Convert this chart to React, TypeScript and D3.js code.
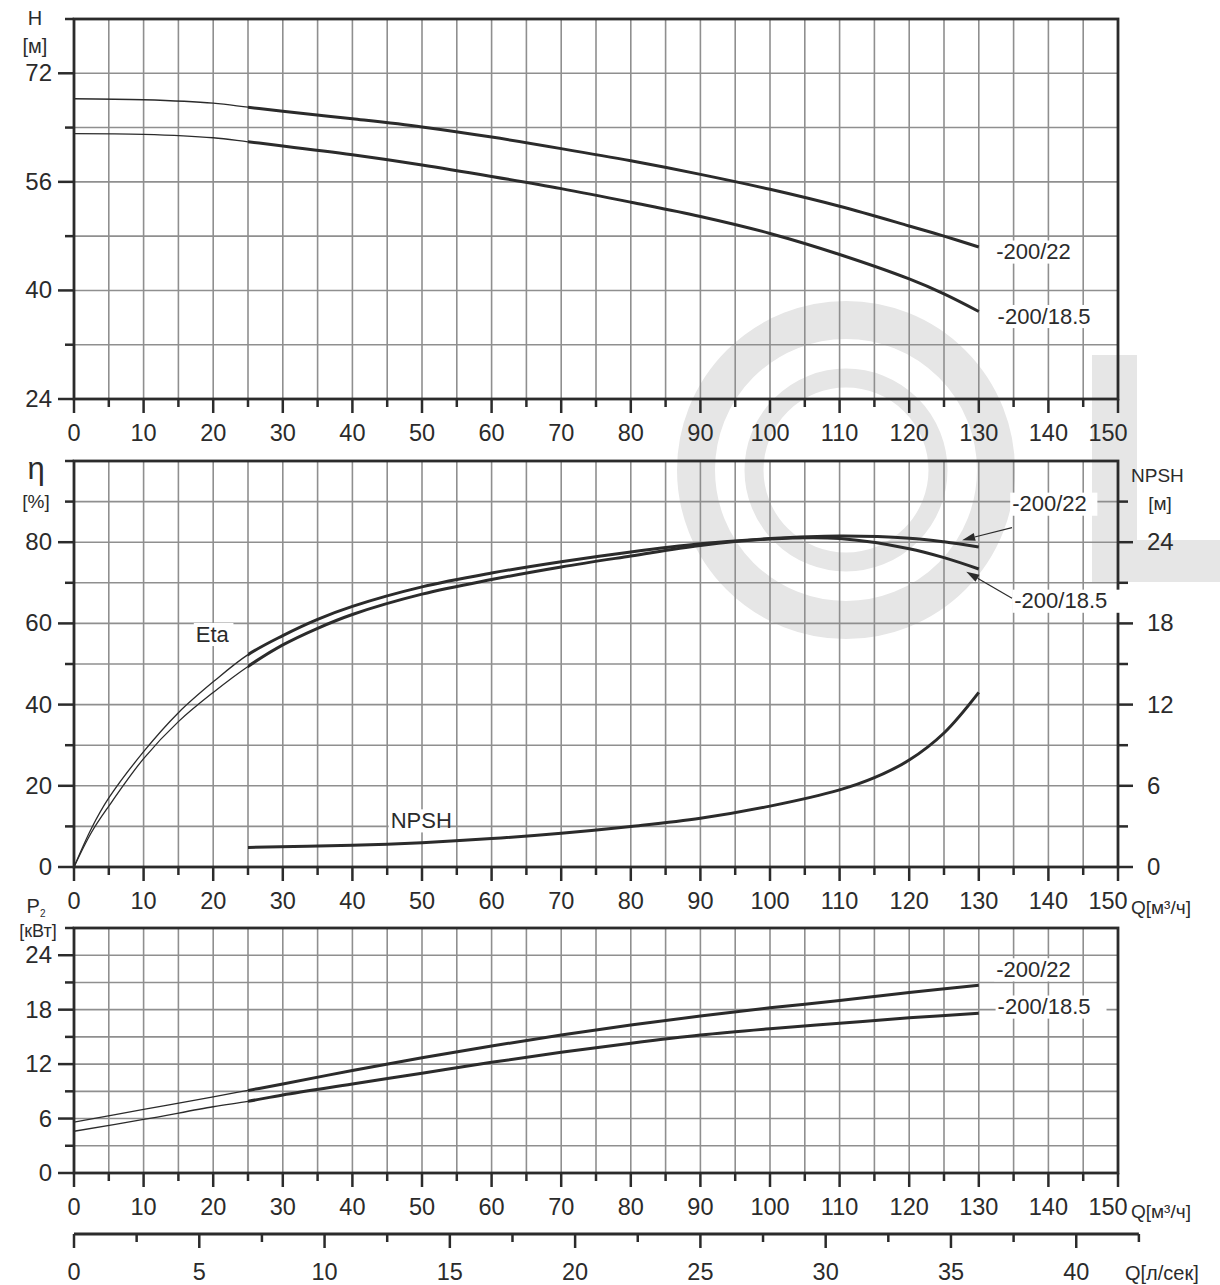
import * as d3 from "d3";

// Q axis (m³/h) and curve values
const qTicks = [0, 10, 20, 30, 40, 50, 60, 70, 80, 90, 100, 110, 120, 130, 140, 150];
const lsTicks = [0, 5, 10, 15, 20, 25, 30, 35, 40];

const qHead = [0, 10, 20, 25, 30, 40, 50, 60, 70, 80, 90, 100, 110, 120, 125, 130];
const head22 = [68.25, 68.1, 67.6, 67.0, 66.4, 65.3, 64.1, 62.6, 60.9, 59.1, 57.1, 54.9, 52.4, 49.5, 48.0, 46.4];
const head185 = [63.1, 63.0, 62.5, 61.9, 61.3, 60.0, 58.5, 56.8, 55.0, 53.0, 50.9, 48.4, 45.3, 41.7, 39.5, 36.9];

const qEta = [0, 2.5, 5, 10, 15, 20, 25, 30, 35, 40, 50, 60, 70, 80, 90, 100, 110, 120, 125, 130];
const eta22 = [0, 9.5, 17, 28.4, 38.0, 45.6, 52.3, 57.0, 61.0, 64.2, 69.0, 72.4, 75.2, 77.6, 79.6, 80.9, 81.5, 81.0, 80.1, 78.8];
const eta185 = [0, 8.5, 15.0, 26.7, 35.8, 43.0, 49.4, 54.7, 58.8, 62.2, 67.2, 70.8, 73.9, 76.6, 79.2, 80.8, 80.9, 78.4, 76.2, 73.4];

const qNpsh = [25, 40, 50, 60, 70, 80, 90, 100, 110, 115, 120, 125, 130];
const npsh = [1.45, 1.6, 1.8, 2.1, 2.5, 3.0, 3.6, 4.5, 5.7, 6.6, 7.9, 9.9, 12.9];

const qPow = [0, 10, 20, 25, 30, 40, 50, 60, 70, 80, 90, 100, 110, 120, 130];
const pow22 = [5.6, 7.0, 8.4, 9.1, 9.8, 11.3, 12.7, 14.0, 15.2, 16.3, 17.3, 18.2, 19.0, 19.9, 20.7];
const pow185 = [4.6, 5.9, 7.3, 7.9, 8.6, 9.8, 11.0, 12.2, 13.3, 14.3, 15.2, 15.9, 16.5, 17.1, 17.6];

const hTicks = [24, 40, 56, 72];
const etaTicks = [0, 20, 40, 60, 80];
const npshTicks = [0, 6, 12, 18, 24];
const powTicks = [0, 6, 12, 18, 24];

const FONT = "'Liberation Sans', Arial, sans-serif";
const INK = "#2b2b2b";
const GRID = "#8f8f8f";
const WM = "#e6e6e6";

const x = d3.scaleLinear().domain([0, 150]).range([74, 1118]);
const xLs = d3.scaleLinear().domain([0, 40]).range([x(0), x(144)]);
const yH = d3.scaleLinear().domain([24, 80]).range([399, 19]);
const yEta = d3.scaleLinear().domain([0, 100]).range([867, 461]);
const yNpsh = d3.scaleLinear().domain([0, 30]).range([867, 461]);
const yP = d3.scaleLinear().domain([0, 27]).range([1173, 928]);

type Scale = d3.ScaleLinear<number, number>;

let clipSeq = 0;

function Curve({ qs, vs, y, start = 0 }: { qs: number[]; vs: number[]; y: Scale; start?: number }) {
  const pts: [number, number][] = qs.map((q, i) => [q, vs[i]]);
  const line = d3
    .line<[number, number]>()
    .x((d) => x(d[0]))
    .y((d) => y(d[1]))
    .curve(d3.curveCatmullRom.alpha(0.5));
  const full = line(pts) ?? "";
  // thin part up to Q=25, thick afterwards
  const id = "clip" + clipSeq++;
  return (
    <g fill="none" stroke={INK}>
      <defs>
        <clipPath id={id + "a"}>
          <rect x={0} y={0} width={x(25)} height={1285} />
        </clipPath>
        <clipPath id={id + "b"}>
          <rect x={x(25)} y={0} width={1220} height={1285} />
        </clipPath>
      </defs>
      {start < 25 && <path d={full} strokeWidth={1.3} clipPath={`url(#${id}a)`} />}
      <path d={full} strokeWidth={3} clipPath={`url(#${id}b)`} />
    </g>
  );
}

function Label({ x0, y0, text, size = 22 }: { x0: number; y0: number; text: string; size?: number }) {
  const w = text.length * size * 0.54;
  return (
    <g>
      <rect x={x0 - 2} y={y0 - size * 0.85} width={w + 4} height={size * 1.05} fill="#fff" />
      <text x={x0} y={y0} fontSize={size} fill={INK} fontFamily={FONT}>
        {text}
      </text>
    </g>
  );
}

function Panel({
  y,
  top,
  bottom,
  step,
  minorStep,
  labels,
  rightAxis,
}: {
  y: Scale;
  top: number;
  bottom: number;
  step: number;
  minorStep: number;
  labels: number[];
  rightAxis?: boolean;
}) {
  const [d0, d1] = y.domain();
  const hLines = d3.range(d0 + step, d1 - 0.001, step);
  const vLines = d3.range(5, 150, 5);
  const minor = d3.range(d0, d1 + 0.001, minorStep).filter((v) => !labels.includes(v));
  const yb = y(d0);
  return (
    <g>
      {vLines.map((q) => (
        <line key={"v" + q} x1={x(q)} x2={x(q)} y1={y(d1)} y2={yb} stroke={GRID} strokeWidth={1.6} />
      ))}
      {hLines.map((v) => (
        <line key={"h" + v} x1={x(0)} x2={x(150)} y1={y(v)} y2={y(v)} stroke={GRID} strokeWidth={1.6} />
      ))}
      {d3.range(0, 151, 5).map((q) => (
        <line
          key={"xt" + q}
          x1={x(q)}
          x2={x(q)}
          y1={yb}
          y2={yb + (q % 10 === 0 ? 14 : 8)}
          stroke={INK}
          strokeWidth={2.5}
        />
      ))}
      {qTicks.map((q) => (
        <text
          key={"xl" + q}
          x={x(q) - (q === 150 ? 10 : 0)}
          y={yb + 42}
          textAnchor="middle"
          fontSize={23.5}
          fill={INK}
          fontFamily={FONT}
        >
          {q}
        </text>
      ))}
      {labels.map((v) => (
        <g key={"yl" + v}>
          <line x1={x(0) - 16} x2={x(0)} y1={y(v)} y2={y(v)} stroke={INK} strokeWidth={2.5} />
          <text x={x(0) - 22} y={y(v) + 8} textAnchor="end" fontSize={24} fill={INK} fontFamily={FONT}>
            {v}
          </text>
        </g>
      ))}
      {minor.map((v) => (
        <line key={"ym" + v} x1={x(0) - 9} x2={x(0)} y1={y(v)} y2={y(v)} stroke={INK} strokeWidth={2.5} />
      ))}
      {rightAxis && (
        <g>
          {npshTicks.map((v) => (
            <g key={"rl" + v}>
              <line x1={x(150)} x2={x(150) + 15} y1={yNpsh(v)} y2={yNpsh(v)} stroke={INK} strokeWidth={2.5} />
              <text x={x(150) + 29} y={yNpsh(v) + 8} fontSize={24} fill={INK} fontFamily={FONT}>
                {v}
              </text>
            </g>
          ))}
          {d3.range(3, 30, 6).map((v) => (
            <line key={"rm" + v} x1={x(150)} x2={x(150) + 10} y1={yNpsh(v)} y2={yNpsh(v)} stroke={INK} strokeWidth={2.5} />
          ))}
        </g>
      )}
      <rect x={x(0)} y={top} width={x(150) - x(0)} height={bottom - top} fill="none" stroke={INK} strokeWidth={2.8} />
    </g>
  );
}

function Arrow({ x1, y1, x2, y2 }: { x1: number; y1: number; x2: number; y2: number }) {
  const a = Math.atan2(y2 - y1, x2 - x1);
  const L = 13;
  const Wd = 4;
  const bx = x2 - L * Math.cos(a);
  const by = y2 - L * Math.sin(a);
  const px = -Math.sin(a) * Wd;
  const py = Math.cos(a) * Wd;
  return (
    <g>
      <line x1={x1} y1={y1} x2={bx} y2={by} stroke={INK} strokeWidth={1.2} />
      <path d={`M${x2},${y2}L${bx + px},${by + py}L${bx - px},${by - py}Z`} fill={INK} />
    </g>
  );
}

export default function App() {
  const ls = d3.range(0, 42.51, 2.5);
  return (
    <svg
      width={1220}
      height={1285}
      style={{ position: "absolute", left: 0, top: 0, background: "#fff" }}
      fontFamily={FONT}
    >
      <rect width={1220} height={1285} fill="#fff" />
      {/* watermark */}
      <g fill="none" stroke={WM}>
        <circle cx={846} cy={470} r={150} strokeWidth={38} />
        <circle cx={846} cy={470} r={92} strokeWidth={19} />
      </g>
      <rect x={1092} y={355} width={45} height={227} fill={WM} />
      <rect x={1137} y={540} width={83} height={42} fill={WM} />

      {/* head panel */}
      <Panel y={yH} top={yH(80)} bottom={yH(24)} step={8} minorStep={8} labels={hTicks} />
      <Curve qs={qHead} vs={head22} y={yH} />
      <Curve qs={qHead} vs={head185} y={yH} />
      <Label x0={x(132.5)} y0={yH(44.6)} text="-200/22" />
      <Label x0={x(132.7)} y0={yH(35.1)} text="-200/18.5" />
      <text x={35} y={25} textAnchor="middle" fontSize={20} fill={INK}>H</text>
      <text x={35} y={53} textAnchor="middle" fontSize={20} fill={INK}>[м]</text>

      {/* efficiency / NPSH panel */}
      <Panel y={yEta} top={yEta(100)} bottom={yEta(0)} step={10} minorStep={10} labels={etaTicks} rightAxis />
      <Curve qs={qEta} vs={eta22} y={yEta} />
      <Curve qs={qEta} vs={eta185} y={yEta} />
      <Curve qs={qNpsh} vs={npsh} y={yNpsh} start={25} />
      <Label x0={x(17.5)} y0={yEta(55.5)} text="Eta" />
      <Label x0={x(45.5)} y0={yEta(9.6)} text="NPSH" />
      <Label x0={x(134.8)} y0={yEta(87.6)} text="-200/22" />
      <Label x0={x(135.1)} y0={yEta(63.7)} text="-200/18.5" />
      <Arrow x1={1012} y1={yEta(83.6)} x2={x(127.6)} y2={yEta(80.5)} />
      <Arrow x1={1012} y1={yEta(66.2)} x2={x(128.2)} y2={yEta(72.7)} />
      <text x={36} y={479} textAnchor="middle" fontSize={31} fill={INK}>η</text>
      <text x={36} y={508} textAnchor="middle" fontSize={19} fill={INK}>[%]</text>
      <text x={1131} y={482} fontSize={19} fill={INK}>NPSH</text>
      <text x={1160} y={510} textAnchor="middle" fontSize={19} fill={INK}>[м]</text>
      <text x={1131} y={914} fontSize={19} fill={INK}>Q[м³/ч]</text>

      {/* power panel */}
      <Panel y={yP} top={yP(27)} bottom={yP(0)} step={3} minorStep={3} labels={powTicks} />
      <Curve qs={qPow} vs={pow22} y={yP} />
      <Curve qs={qPow} vs={pow185} y={yP} />
      <Label x0={x(132.5)} y0={yP(21.6)} text="-200/22" />
      <Label x0={x(132.7)} y0={yP(17.5)} text="-200/18.5" />
      <text x={36} y={913} textAnchor="middle" fontSize={20} fill={INK}>
        P<tspan fontSize={10} dy={4}>2</tspan>
      </text>
      <text x={38} y={937} textAnchor="middle" fontSize={18} fill={INK}>[кВт]</text>
      <text x={1131} y={1218} fontSize={19} fill={INK}>Q[м³/ч]</text>

      {/* l/s axis */}
      <line x1={xLs(0)} x2={xLs(42.5)} y1={1234} y2={1234} stroke={INK} strokeWidth={2.8} />
      {ls.map((v) => (
        <line
          key={"ls" + v}
          x1={xLs(v)}
          x2={xLs(v)}
          y1={1234}
          y2={1234 + (v % 5 === 0 ? 14 : 8)}
          stroke={INK}
          strokeWidth={2.5}
        />
      ))}
      {lsTicks.map((v) => (
        <text key={"lsl" + v} x={xLs(v)} y={1280} textAnchor="middle" fontSize={23.5} fill={INK}>
          {v}
        </text>
      ))}
      <text x={1125} y={1280} fontSize={20} fill={INK}>Q[л/сек]</text>
    </svg>
  );
}
